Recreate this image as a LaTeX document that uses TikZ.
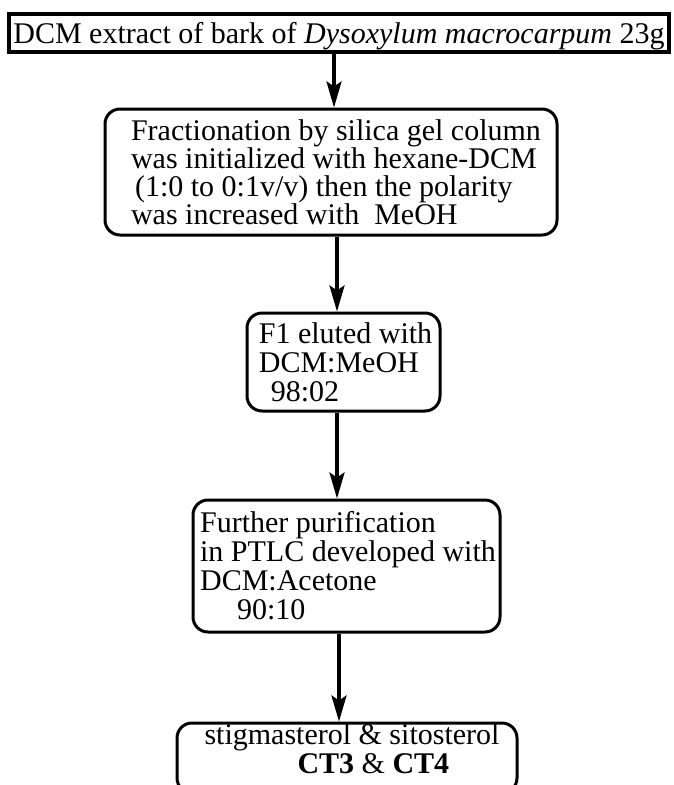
\documentclass[tikz,border=0pt]{standalone}
\usepackage{fontspec}
\setmainfont{Liberation Serif}
\usetikzlibrary{arrows.meta}
\begin{document}
\begin{tikzpicture}[x=1pt,y=-1pt,
  txt/.style={font=\fontsize{30}{29}\selectfont, align=left, inner sep=0pt},
  plainbox/.style={txt, draw, line width=3.2pt},
  roundbox/.style={txt, draw, line width=3pt, rounded corners=15pt},
  arr/.style={line width=3.4pt, -{Stealth[length=26pt,width=15pt,inset=5pt]}}]
\useasboundingbox (0,0) rectangle (674,785);
\clip (0,0) rectangle (674,785);
\fill[white] (0,0) rectangle (674,785);

% vertical spine along which the arrows run
\coordinate (spine) at (337,0);

% starting material
\node[plainbox, minimum width=660pt, minimum height=38pt, text depth=0pt] (src) at (339,33)
  {DCM extract of bark of \textit{Dysoxylum macrocarpum} 23g};

% column fractionation
\node[roundbox, minimum width=452pt, minimum height=126pt,
      font=\fontsize{30}{28}\selectfont] (frac) at (331,172)
  {\hspace{10pt}Fractionation by silica gel column\\
   \hspace{10pt}was initialized with hexane-DCM\\
   \hspace{14pt}(1:0 to 0:1v/v) then the polarity\\
   \hspace{10pt}was increased with~ MeOH};

% first fraction
\node[roundbox, minimum width=193pt, minimum height=98pt] (f1) at (343.5,362)
  {\hspace{4pt}F1 eluted with\\
   \hspace{4pt}DCM:MeOH\\
   \hspace{16pt}98:02};

% preparative TLC
\node[roundbox, minimum width=307pt, minimum height=132pt] (ptlc) at (346.5,566)
  {\hspace{3pt}Further purification\\
   \hspace{3pt}in PTLC developed with\\
   \hspace{3pt}DCM:Acetone\\
   \hspace{40pt}90:10};

% isolated compounds
\node[roundbox, minimum width=340pt, minimum height=70pt] (prod) at (347,758)
  {\hspace{10pt}stigmasterol \& sitosterol\\
   \hspace{103pt}\textbf{CT3} \& \textbf{CT4}\rule[-18pt]{0pt}{0pt}};

% flow arrows
\draw[arr] (src.south -| spine) ++(-3,0) coordinate (a1) -- (a1 |- frac.north);
\draw[arr] (frac.south -| spine) -- (spine |- f1.north);
\draw[arr] (f1.south -| spine) -- (spine |- ptlc.north);
\draw[arr] (ptlc.south -| spine) ++(2,0) coordinate (a4) -- (a4 |- prod.north);
\end{tikzpicture}
\end{document}
